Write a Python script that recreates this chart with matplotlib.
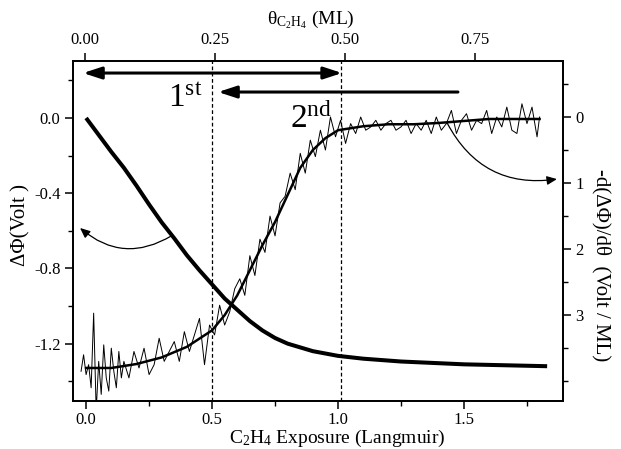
import matplotlib
matplotlib.use('Agg')
import matplotlib.pyplot as plt
from matplotlib.ticker import FixedLocator, MultipleLocator

plt.rcParams['font.family'] = ['Liberation Serif', 'DejaVu Serif']
plt.rcParams['mathtext.fontset'] = 'custom'
plt.rcParams['mathtext.rm'] = 'Liberation Serif'
plt.rcParams['mathtext.it'] = 'Liberation Serif:italic'
plt.rcParams['axes.unicode_minus'] = False

# ---------------- data ----------------
# work-function change (left axis, Volt) vs exposure (L)
dphi_exposure = [0.0, 0.05, 0.10, 0.15, 0.20, 0.25, 0.30, 0.35, 0.40, 0.45, 0.50,
                 0.55, 0.60, 0.65, 0.70, 0.75, 0.80, 0.85, 0.90, 1.00, 1.10, 1.25,
                 1.50, 1.83]
dphi_volt = [0.00, -0.09, -0.18, -0.265, -0.36, -0.46, -0.555, -0.64, -0.73, -0.81,
             -0.885, -0.96, -1.02, -1.08, -1.13, -1.17, -1.20, -1.22, -1.24, -1.265,
             -1.28, -1.295, -1.31, -1.32]

# raw derivative -d(dPhi)/dtheta (right axis, Volt/ML)
deriv_exposure = [-0.02, -0.01, 0.00, 0.01, 0.02, 0.03, 0.04, 0.05, 0.06, 0.07, 0.08,
                  0.09, 0.10, 0.11, 0.12, 0.13, 0.14, 0.15, 0.17, 0.19, 0.21, 0.23,
                  0.25, 0.27, 0.29, 0.31, 0.33, 0.35, 0.37, 0.39, 0.41, 0.43, 0.45,
                  0.47, 0.49, 0.51, 0.53, 0.55, 0.57, 0.59, 0.61, 0.63, 0.65, 0.67,
                  0.69, 0.71, 0.73, 0.75, 0.77, 0.79, 0.81, 0.83, 0.85, 0.87, 0.89,
                  0.91, 0.93, 0.95, 0.97, 0.99, 1.01, 1.03, 1.05, 1.07, 1.09, 1.11,
                  1.13, 1.15, 1.17, 1.19, 1.21, 1.23, 1.25, 1.27, 1.29, 1.31, 1.33,
                  1.35, 1.37, 1.39, 1.41, 1.43, 1.45, 1.47, 1.49, 1.51, 1.53, 1.55,
                  1.57, 1.59, 1.61, 1.63, 1.65, 1.67, 1.69, 1.71, 1.73, 1.75, 1.77,
                  1.79, 1.80]
deriv_value = [3.85, 3.60, 3.90, 3.75, 4.10, 2.97, 4.45, 3.70, 4.20, 3.45, 3.95,
               4.15, 3.50, 3.85, 4.10, 3.55, 3.95, 3.70, 3.95, 3.55, 3.80, 3.50,
               3.90, 3.75, 3.35, 3.70, 3.55, 3.40, 3.70, 3.25, 3.55, 3.30, 3.05,
               3.75, 3.15, 3.30, 2.85, 3.15, 2.95, 2.60, 2.45, 2.70, 2.10, 2.40,
               1.85, 2.05, 1.50, 1.80, 1.30, 1.20, 0.85, 1.10, 0.55, 0.85, 0.35,
               0.60, 0.20, 0.50, 0.00, 0.30, 0.05, 0.40, 0.10, 0.25, 0.00, 0.20,
               0.15, 0.05, 0.20, 0.10, 0.05, 0.20, 0.15, 0.05, 0.25, 0.10, 0.20,
               0.05, 0.25, 0.00, 0.20, 0.10, -0.10, 0.25, 0.05, -0.05, 0.20, 0.05,
               0.10, -0.10, 0.25, 0.00, 0.15, -0.15, 0.20, 0.25, -0.20, 0.10, -0.15,
               0.30, 0.00]

# smoothed derivative (right axis)
trend_exposure = [0.0, 0.1, 0.2, 0.3, 0.4, 0.5, 0.55, 0.6, 0.65, 0.7, 0.75, 0.8,
                  0.85, 0.9, 0.95, 1.0, 1.1, 1.2, 1.3, 1.4, 1.5, 1.6, 1.7, 1.8]
trend_value = [3.80, 3.80, 3.74, 3.64, 3.48, 3.23, 3.00, 2.70, 2.32, 1.94, 1.59, 1.18,
               0.77, 0.50, 0.32, 0.20, 0.14, 0.11, 0.11, 0.09, 0.06, 0.03, 0.03, 0.03]

boundary_exposure = [0.5, 1.01]

exposure_ticks = [0.0, 0.5, 1.0, 1.5]
exposure_labels = ['0.0', '0.5', '1.0', '1.5']
coverage_ticks = [0.0, 0.25, 0.5, 0.75]
coverage_labels = ['0.00', '0.25', '0.50', '0.75']
volt_ticks = [0.0, -0.4, -0.8, -1.2]
volt_labels = ['0.0', '-0.4', '-0.8', '-1.2']
deriv_ticks = [0, 1, 2, 3]
deriv_labels = ['0', '1', '2', '3']

# ---------------- figure ----------------
W, H = 621, 449
fig = plt.figure(figsize=(W / 100, H / 100), dpi=100)
L, R, T, B = 73, 563, 61, 401
ax = fig.add_axes([L / W, 1 - B / H, (R - L) / W, (B - T) / H])
ax.set_xlim(-0.052, 1.893)
ax.set_ylim(-1.505, 0.303)

ax_r = ax.twinx()
ax_r.set_ylim(4.30, -0.848)
ax_t = ax.twiny()
ax_t.set_xlim(-0.023, 0.919)

for a in (ax, ax_r, ax_t):
    for s in a.spines.values():
        s.set_linewidth(1.1)

ax.xaxis.set_major_locator(FixedLocator(exposure_ticks))
ax.set_xticklabels(exposure_labels)
ax.xaxis.set_minor_locator(MultipleLocator(0.25))
ax.yaxis.set_major_locator(FixedLocator(volt_ticks))
ax.set_yticklabels(volt_labels)
ax.yaxis.set_minor_locator(MultipleLocator(0.2))
ax_r.yaxis.set_major_locator(FixedLocator(deriv_ticks))
ax_r.set_yticklabels(deriv_labels)
ax_r.yaxis.set_minor_locator(MultipleLocator(0.5))
ax_t.xaxis.set_major_locator(FixedLocator(coverage_ticks))
ax_t.set_xticklabels(coverage_labels)

for a in (ax, ax_r, ax_t):
    a.tick_params(which='major', direction='out', length=6, width=1.1,
                  labelsize=12, pad=3)
    a.tick_params(which='minor', direction='out', length=3.5, width=1.0)
ax.tick_params(axis='x', which='major', pad=2)

# curves
ax.plot(dphi_exposure, dphi_volt, color='k', lw=2.9, solid_capstyle='butt')
ax_r.plot(deriv_exposure, deriv_value, color='k', lw=0.7)
ax_r.plot(trend_exposure, trend_value, color='k', lw=1.8)

for xb in boundary_exposure:
    ax.axvline(xb, color='k', lw=0.9, dashes=(3, 2))

# thick double/single arrows
ax.annotate('', xy=(1.016, 0.239), xytext=(-0.012, 0.239),
            arrowprops=dict(arrowstyle='<|-|>,head_length=0.55,head_width=0.18',
                            lw=2.2, color='k', shrinkA=0, shrinkB=0,
                            mutation_scale=20))
ax.annotate('', xy=(0.524, 0.138), xytext=(1.476, 0.138),
            arrowprops=dict(arrowstyle='-|>,head_length=0.55,head_width=0.18',
                            lw=2.2, color='k', shrinkA=0, shrinkB=0,
                            mutation_scale=20))

ax.text(0.325, 0.058, r'$\mathrm{1^{st}}$', fontsize=24, ha='left', va='baseline')
ax.text(0.81, -0.053, r'$\mathrm{2^{nd}}$', fontsize=24, ha='left', va='baseline')

# curved pointer arrows
ax.annotate('', xy=(-0.024, -0.585), xytext=(0.341, -0.625),
            arrowprops=dict(arrowstyle='-|>,head_length=0.5,head_width=0.22',
                            connectionstyle='arc3,rad=-0.36', lw=0.9, color='k',
                            shrinkA=0, shrinkB=0, mutation_scale=12))
ax_r.annotate('', xy=(1.869, 0.94), xytext=(1.433, 0.09),
              arrowprops=dict(arrowstyle='-|>,head_length=0.5,head_width=0.22',
                              connectionstyle='arc3,rad=0.35', lw=0.9, color='k',
                              shrinkA=0, shrinkB=0, mutation_scale=12))

# axis labels
fig.text(337 / W, 1 - 443 / H, r'C$_2$H$_4$ Exposure (Langmuir)', fontsize=14,
         ha='center', va='baseline')
fig.text(311 / W, 1 - 20 / H, r'θ$_{\mathrm{C_2H_4}}$ (ML)', fontsize=14,
         ha='center', va='center')
fig.text(21 / W, 1 - 225 / H, 'ΔΦ(Volt )', fontsize=15, rotation=90,
         ha='center', va='center')
fig.text(601 / W, 1 - 265 / H, '-d(ΔΦ)/dθ  (Volt / ML)', fontsize=15, rotation=-90,
         ha='center', va='center')

fig.savefig('out.png', dpi=100)
